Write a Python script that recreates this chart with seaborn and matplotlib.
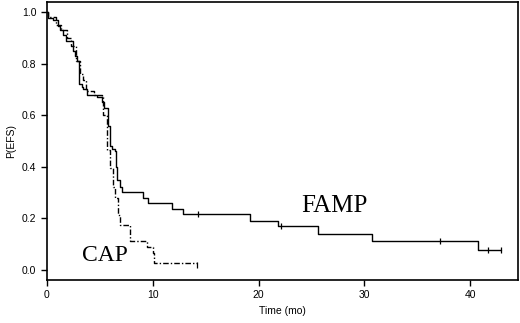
import numpy as np
import pandas as pd
import matplotlib
matplotlib.use("Agg")
import matplotlib.pyplot as plt
import seaborn as sns

# FAMP (solid): step times (mo) and P(EFS) after each step
famp_t = [0.0, 0.15, 0.63, 1.1, 1.26, 1.57, 1.82, 2.45, 2.67, 2.89, 3.0, 3.3, 3.45, 3.83,
          4.78, 5.2, 5.44, 5.8, 6.0, 6.2, 6.44, 6.55, 6.66, 6.9, 7.07, 9.1, 9.6, 11.85,
          12.9, 19.2, 21.8, 25.6, 30.75, 40.75, 42.9]
famp_s = [1.0, 0.978, 0.968, 0.947, 0.93, 0.912, 0.89, 0.85, 0.83, 0.81, 0.72, 0.71, 0.70, 0.68,
          0.67, 0.65, 0.627, 0.56, 0.48, 0.47, 0.46, 0.40, 0.35, 0.323, 0.30, 0.28, 0.258, 0.235,
          0.216, 0.191, 0.168, 0.14, 0.112, 0.075, 0.075]
famp_cens_t = [14.24, 22.1, 37.1, 41.7, 42.9]
famp_cens_s = [0.216, 0.168, 0.112, 0.075, 0.075]

# CAP (dash-dot)
cap_t = [0.0, 0.15, 0.9, 1.3, 1.9, 2.3, 2.8, 3.15, 3.4, 3.7, 4.5, 5.2, 5.35, 5.65, 5.97,
         6.28, 6.44, 6.76, 6.9, 7.86, 9.44, 10.05, 10.12, 14.15]
cap_s = [1.0, 0.98, 0.95, 0.93, 0.90, 0.87, 0.81, 0.76, 0.736, 0.695, 0.68, 0.67, 0.60, 0.465, 0.394,
         0.323, 0.278, 0.213, 0.175, 0.11, 0.087, 0.065, 0.025, 0.025]
cap_cens_t = [14.15]
cap_cens_s = [0.02]

sns.set_style("ticks")
plt.rcParams["font.family"] = ["Liberation Sans", "DejaVu Sans"]
plt.rcParams["text.color"] = "black"
plt.rcParams["axes.labelcolor"] = "black"
plt.rcParams["xtick.color"] = "black"
plt.rcParams["ytick.color"] = "black"

fig = plt.figure(figsize=(5.2, 3.23), dpi=100)
ax = fig.add_axes([0.09, 0.133, 0.906, 0.861])

famp = pd.DataFrame({"t": famp_t, "s": famp_s})
cap = pd.DataFrame({"t": cap_t, "s": cap_s})
sns.lineplot(data=famp, x="t", y="s", estimator=None, drawstyle="steps-post",
             color="black", linewidth=1.0, ax=ax)
sns.lineplot(data=cap, x="t", y="s", estimator=None, drawstyle="steps-post",
             color="black", linewidth=1.0, linestyle=(0, (4, 1.5, 1, 1.5)), ax=ax)
ax.plot(famp_cens_t, famp_cens_s, "|", color="black", markersize=5, markeredgewidth=0.9)
ax.plot(cap_cens_t, cap_cens_s, "|", color="black", markersize=5, markeredgewidth=0.9)

ax.text(27.2, 0.248, "FAMP", family="Liberation Serif", fontsize=18, ha="center", va="center")
ax.text(5.45, 0.056, "CAP", family="Liberation Serif", fontsize=17, ha="center", va="center")

ax.set_xlim(0, 44.5)
ax.set_ylim(-0.04, 1.04)
ax.set_xticks([0, 10, 20, 30, 40])
ax.set_yticks([0.0, 0.2, 0.4, 0.6, 0.8, 1.0])
ax.set_yticklabels(["0.0", "0.2", "0.4", "0.6", "0.8", "1.0"])
ax.tick_params(labelsize=7.5, length=4, width=1.0, color="black")
ax.set_xlabel("Time (mo)", fontsize=7.5)
ax.set_ylabel("P(EFS)", fontsize=7.5)
for sp in ax.spines.values():
    sp.set_visible(True)
    sp.set_color("black")
    sp.set_linewidth(1.2)

fig.savefig("out.png", dpi=100)
